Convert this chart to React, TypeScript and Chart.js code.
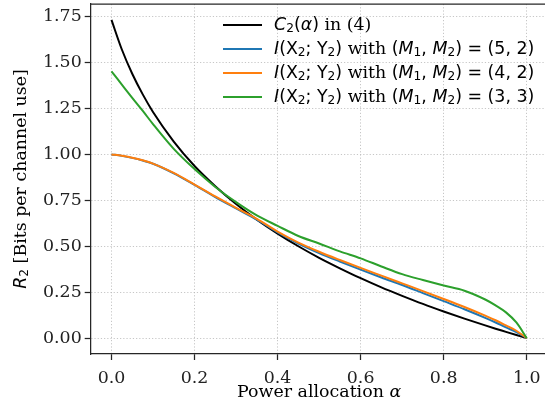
import React, { useEffect, useRef } from 'react';
import { Chart, registerables } from 'chart.js';

Chart.register(...registerables);

// ---- data ----
const alpha = [0, 0.025, 0.05, 0.075, 0.1, 0.15, 0.2, 0.25, 0.3, 0.35, 0.4, 0.45, 0.5, 0.55, 0.6, 0.65, 0.7, 0.75, 0.8, 0.85, 0.9, 0.925, 0.95, 0.975, 1.0];
const capacityC2 = [1.732, 1.571, 1.439, 1.328, 1.231, 1.07, 0.937, 0.827, 0.73, 0.645, 0.569, 0.5, 0.437, 0.38, 0.326, 0.276, 0.23, 0.186, 0.145, 0.106, 0.069, 0.051, 0.034, 0.017, 0.0];
const mi52 = [1.0, 0.992, 0.981, 0.967, 0.949, 0.897, 0.834, 0.768, 0.706, 0.645, 0.576, 0.515, 0.463, 0.417, 0.373, 0.33, 0.289, 0.245, 0.201, 0.157, 0.11, 0.085, 0.058, 0.033, 0.0];
const mi42 = [1.0, 0.993, 0.982, 0.968, 0.95, 0.899, 0.836, 0.771, 0.709, 0.649, 0.58, 0.52, 0.47, 0.425, 0.382, 0.34, 0.298, 0.256, 0.213, 0.169, 0.122, 0.097, 0.069, 0.04, 0.0];
const mi33 = [1.452, 1.38, 1.308, 1.238, 1.165, 1.03, 0.92, 0.823, 0.74, 0.668, 0.611, 0.556, 0.515, 0.472, 0.434, 0.39, 0.348, 0.316, 0.286, 0.258, 0.21, 0.178, 0.14, 0.085, 0.0];
const xTicks = [0, 0.2, 0.4, 0.6, 0.8, 1.0];
const yTicks = [0, 0.25, 0.5, 0.75, 1.0, 1.25, 1.5, 1.75];

const SERIF = '"DejaVu Serif", serif';
const SANS = '"DejaVu Sans", sans-serif';

type Seg = { t: string; it?: boolean; sub?: boolean; serif?: boolean };

const legendC2: Seg[] = [
  { t: 'C', it: true }, { t: '2', sub: true }, { t: '(' }, { t: 'α', it: true }, { t: ')' }, { t: ' in (4)', serif: true },
];
const miLabel = (m1: string, m2: string): Seg[] => [
  { t: 'I', it: true }, { t: '(X' }, { t: '2', sub: true }, { t: '; Y' }, { t: '2', sub: true }, { t: ')' },
  { t: ' with ', serif: true }, { t: '(' }, { t: 'M', it: true }, { t: '1', sub: true }, { t: ', ' },
  { t: 'M', it: true }, { t: '2', sub: true }, { t: ') = (' + m1 + ', ' + m2 + ')' },
];
const legendEntries: { color: string; segs: Seg[] }[] = [
  { color: '#000000', segs: legendC2 },
  { color: '#1f77b4', segs: miLabel('5', '2') },
  { color: '#ff7f0e', segs: miLabel('4', '2') },
  { color: '#2ca02c', segs: miLabel('3', '3') },
];
const yLabel: Seg[] = [{ t: 'R', it: true }, { t: '2', sub: true }, { t: ' [Bits per channel use]', serif: true }];
const xLabel: Seg[] = [{ t: 'Power allocation ', serif: true }, { t: 'α', it: true, serif: true }];

const FS = 17.4;

function fontFor(s: Seg, size: number) {
  const fs = s.sub ? size * 0.7 : size;
  return `${s.it ? 'italic ' : ''}${fs}px ${s.serif ? SERIF : SANS}`;
}
function richWidth(ctx: CanvasRenderingContext2D, segs: Seg[], size: number) {
  let w = 0;
  for (const s of segs) { ctx.font = fontFor(s, size); w += ctx.measureText(s.t).width; }
  return w;
}
function drawRich(ctx: CanvasRenderingContext2D, segs: Seg[], x: number, y: number, size: number) {
  let cx = x;
  for (const s of segs) {
    ctx.font = fontFor(s, size);
    ctx.fillText(s.t, cx, y + (s.sub ? size * 0.22 : 0));
    cx += ctx.measureText(s.t).width;
  }
}

const decorPlugin = {
  id: 'decor',
  afterDraw(chart: any) {
    const ctx: CanvasRenderingContext2D = chart.ctx;
    const a = chart.chartArea;
    ctx.save();
    // top spine (the right spine lies beyond the visible page, as in the reference)
    ctx.strokeStyle = '#262626';
    ctx.lineWidth = 1.25;
    ctx.beginPath();
    ctx.moveTo(a.left, a.top);
    ctx.lineTo(a.right, a.top);
    ctx.stroke();
    // legend
    ctx.textBaseline = 'middle';
    ctx.textAlign = 'left';
    ctx.fillStyle = '#000';
    legendEntries.forEach((e, i) => {
      const y = 25 + i * 24;
      ctx.strokeStyle = e.color;
      ctx.lineWidth = 2;
      ctx.beginPath();
      ctx.moveTo(223, y);
      ctx.lineTo(262, y);
      ctx.stroke();
      drawRich(ctx, e.segs, 274, y, FS);
    });
    // x label
    const cx = (a.left + a.right) / 2;
    const xw = richWidth(ctx, xLabel, FS);
    drawRich(ctx, xLabel, cx - xw / 2, 392, FS);
    // y label
    ctx.translate(21, (a.top + a.bottom) / 2);
    ctx.rotate(-Math.PI / 2);
    const yw = richWidth(ctx, yLabel, FS);
    drawRich(ctx, yLabel, -yw / 2, 0, FS);
    ctx.restore();
  },
};

const zeroPad = (s: any) => { s.paddingTop = 0; s.paddingBottom = 0; s.paddingLeft = 0; s.paddingRight = 0; };

function App() {
  const ref = useRef<HTMLCanvasElement | null>(null);
  useEffect(() => {
    if (!ref.current) return;
    const mk = (vals: number[]) => alpha.map((x, i) => ({ x, y: vals[i] }));
    const ds = (label: string, vals: number[], color: string, order: number) => ({
      label, data: mk(vals), borderColor: color, backgroundColor: color,
      borderWidth: 2, pointRadius: 0, cubicInterpolationMode: 'monotone' as const, order, fill: false,
    });
    const axisCommon = {
      border: { display: true, color: '#262626', width: 1.25, dash: [1.2, 2] },
      grid: { color: '#b8b8b8', lineWidth: 0.8, tickColor: '#262626', tickWidth: 1.25, tickLength: 6, drawTicks: true },
    };
    const chart = new Chart(ref.current, {
      type: 'line',
      data: {
        datasets: [
          ds('C2', capacityC2, '#000000', 3),
          ds('52', mi52, '#1f77b4', 2),
          ds('42', mi42, '#ff7f0e', 1),
          ds('33', mi33, '#2ca02c', 0),
        ],
      },
      plugins: [decorPlugin],
      options: {
        animation: false,
        responsive: false,
        maintainAspectRatio: false,
        layout: { padding: { top: 4, left: 0, right: 12.5, bottom: 0 }, autoPadding: false },
        plugins: { legend: { display: false }, tooltip: { enabled: false } },
        scales: {
          x: {
            type: 'linear', min: -0.05, max: 1.05,
            ...axisCommon,
            ticks: { color: '#222', font: { family: SERIF, size: FS }, padding: 8, callback: (v: any) => Number(v).toFixed(1) },
            afterBuildTicks: (s: any) => { s.ticks = xTicks.map((v) => ({ value: v })); },
            afterFit: (s: any) => { s.height = 63; zeroPad(s); },
          },
          y: {
            type: 'linear', min: -0.0866, max: 1.8187,
            ...axisCommon,
            ticks: { color: '#222', font: { family: SERIF, size: FS }, padding: 3, callback: (v: any) => Number(v).toFixed(2) },
            afterBuildTicks: (s: any) => { s.ticks = yTicks.map((v) => ({ value: v })); },
            afterFit: (s: any) => { s.width = 90.7; zeroPad(s); },
          },
        },
      },
    });
    return () => chart.destroy();
  }, []);
  return (
    <div style={{ position: 'fixed', left: 0, top: 0, width: 545, height: 417, overflow: 'hidden', background: '#fff' }}>
      <canvas ref={ref} width={560} height={417} style={{ width: 560, height: 417, display: 'block' }} />
    </div>
  );
}

export default App;
